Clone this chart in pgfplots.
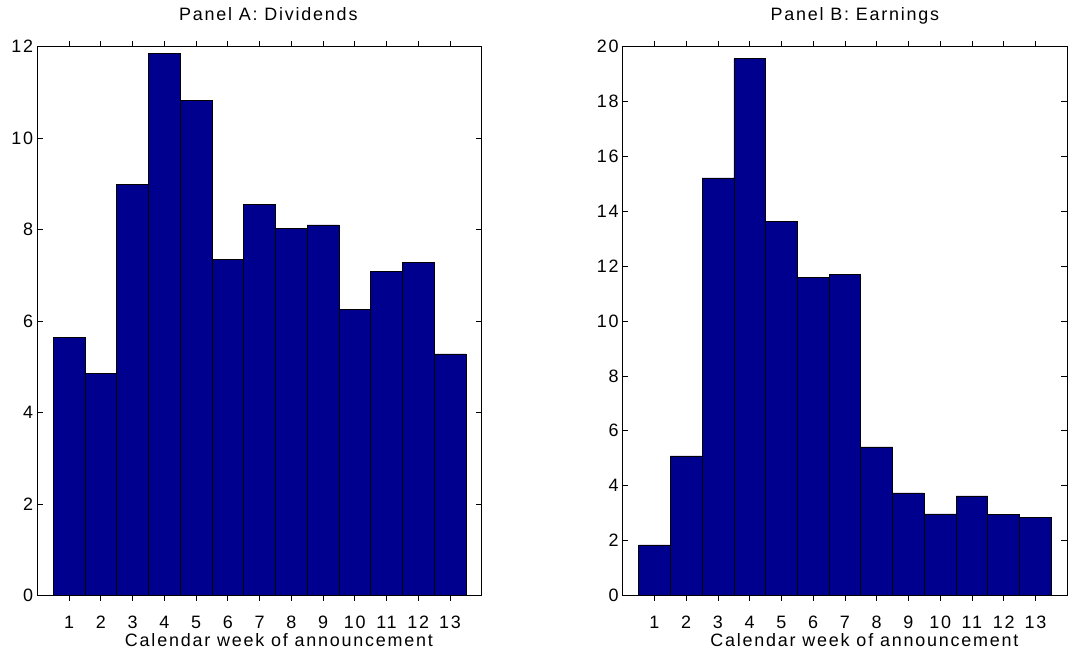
\documentclass[border=0pt]{standalone}
\usepackage{pgfplots}
\pgfplotsset{compat=1.18}
\usepackage{fontspec}
\setmainfont{Liberation Sans}[LetterSpace=10]
\definecolor{barblue}{RGB}{0,0,143}
\pgfplotstableread{
x y
1 5.64
2 4.86
3 8.98
4 11.85
5 10.82
6 7.35
7 8.55
8 8.03
9 8.10
10 6.26
11 7.08
12 7.28
13 5.28
}\divtab
\pgfplotstableread{
x y
1 1.84
2 5.08
3 15.22
4 19.56
5 13.62
6 11.59
7 11.71
8 5.41
9 3.73
10 2.97
11 3.62
12 2.95
13 2.83
}\earntab
\pgfplotsset{panel/.style={
  scale only axis, width=444.4bp, height=548.6bp,
  xmin=0, xmax=14, ymin=0,
  xtick={1,...,13},
  tick align=inside, major tick length=5.7bp,
  tick style={black, line width=0.6bp},
  axis line style={black, line width=0.8bp},
  /pgf/number format/assume math mode=true,
  tick label style={font=\fontsize{18}{21}\selectfont},
  label style={font=\fontsize{18}{21}\selectfont},
  title style={font=\fontsize{18}{21}\selectfont, at={(axis description cs:0.5,1)}, anchor=base, yshift=20bp},
  xticklabel style={anchor=base, yshift=-28bp},
  yticklabel style={anchor=east, inner sep=0pt, xshift=-4bp},
  xlabel={Calendar week of announcement},
  xlabel style={at={(axis description cs:0.5,0)}, anchor=base, yshift=-51.4bp, xshift=19.5bp},
  ybar, bar width=1, bar shift=0,
}}
\begin{document}
\begin{tikzpicture}[x=1bp,y=1bp]
\useasboundingbox (0,0) rectangle (1069,654);
\begin{axis}[panel, at={(37.3bp,58.7bp)}, anchor=south west,
  ymax=12, ytick={0,2,...,12}, title={Panel A: Dividends}, title style={xshift=8.8bp}]
\addplot[fill=barblue, draw=black, line width=0.6bp] table[x=x,y=y] {\divtab};
\end{axis}
\begin{axis}[panel, at={(622.7bp,58.7bp)}, anchor=south west,
  ymax=20, ytick={0,2,...,20}, title={Panel B: Earnings}, title style={xshift=10bp}]
\addplot[fill=barblue, draw=black, line width=0.6bp] table[x=x,y=y] {\earntab};
\end{axis}
\end{tikzpicture}
\end{document}
